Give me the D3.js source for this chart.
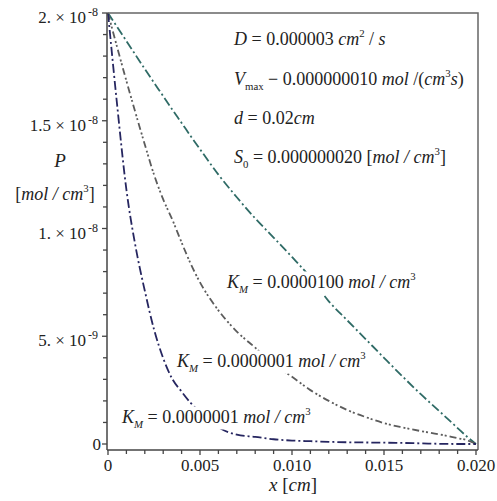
<!DOCTYPE html>
<html>
<head>
<meta charset="utf-8">
<script src="https://cdn.jsdelivr.net/npm/d3@7"></script>
<style>
  body { margin: 0; background: #fff; }
  text { font-family: "Liberation Serif", serif; }
</style>
</head>
<body>
<div class="graph"></div>
<script>
// x in cm, P in units of 1e-8 mol/cm^3
var xs = [0, 0.0005, 0.001, 0.0015, 0.002, 0.0025, 0.003, 0.0035, 0.004, 0.0045, 0.005,
  0.006, 0.007, 0.008, 0.009, 0.010, 0.011, 0.012, 0.013, 0.014, 0.015, 0.016, 0.017,
  0.018, 0.019, 0.0195, 0.020];
var pKm100 = [2.0, 1.935, 1.87, 1.805, 1.74, 1.677, 1.614, 1.551, 1.49, 1.428, 1.368,
  1.25, 1.145, 1.047, 0.958, 0.868, 0.773, 0.662, 0.574, 0.487, 0.40, 0.314, 0.231,
  0.153, 0.074, 0.035, 0];
var pKmMid = [2.0, 1.84, 1.685, 1.535, 1.39, 1.25, 1.135, 1.04, 0.935, 0.835, 0.75,
  0.62, 0.522, 0.447, 0.37, 0.312, 0.25, 0.2, 0.158, 0.125, 0.097, 0.077, 0.06,
  0.045, 0.027, 0.018, 0];
var pKmLow = [2.0, 1.57, 1.18, 0.915, 0.711, 0.532, 0.398, 0.301, 0.243, 0.19, 0.15,
  0.078, 0.043, 0.033, 0.022, 0.016, 0.013, 0.01, 0.008, 0.007, 0.006, 0.005, 0.003,
  0.001, 0, 0, 0];

var yTicks = [0, 0.5, 1, 1.5, 2];
var yTickMant = ["0", "5. \u00d7 10", "1. \u00d7 10", "1.5 \u00d7 10", "2. \u00d7 10"];
var yTickExp = ["", "-9", "-8", "-8", "-8"];
var xTicks = [0, 0.005, 0.010, 0.015, 0.020];
var xTickLabels = ["0", "0.005", "0.010", "0.015", "0.020"];

var infoLines = [
  [{t: "D", i: 1}, {t: " = 0.000003 "}, {t: "cm", i: 1}, {t: "2", s: "sup"}, {t: " / "}, {t: "s", i: 1}],
  [{t: "V", i: 1}, {t: "max", s: "sub"}, {t: " \u2212 0.000000010 "}, {t: "mol", i: 1}, {t: " /("}, {t: "cm", i: 1}, {t: "3", s: "sup"}, {t: "s", i: 1}, {t: ")"}],
  [{t: "d", i: 1}, {t: " = 0.02"}, {t: "cm", i: 1}],
  [{t: "S", i: 1}, {t: "0", s: "sub"}, {t: " = 0.000000020 ["}, {t: "mol / cm", i: 1}, {t: "3", s: "sup"}, {t: "]"}]
];
var kmLabels = ["0.0000100", "0.0000001", "0.0000001"];

window.onload = () => {
  var width = 497, height = 501;
  var serif = "Liberation Serif";
  var svg = d3.select(".graph").append("svg")
    .attr("width", width)
    .attr("height", height);

  var x = d3.scaleLinear().domain([0, 0.02]).range([108, 476]);
  var y = d3.scaleLinear().domain([0, 2]).range([444, 13]);

  var left = x(0) - 1, right = x(0.02) + 2, top = y(2), bottom = y(0) + 6;

  function txt(sel, px, py, size, anchor) {
    return sel.append("text").attr("x", px).attr("y", py)
      .style("font-family", serif).style("font-size", size + "px")
      .style("fill", "#222").attr("text-anchor", anchor || "start");
  }

  // rich text with italic / sub / sup parts
  function rich(sel, px, py, parts, size, anchor) {
    var t = txt(sel, px, py, size, anchor);
    var shift = 0;
    parts.forEach(function (p) {
      var target = p.s === "sup" ? -0.42 * size : p.s === "sub" ? 0.25 * size : 0;
      var ts = t.append("tspan").text(p.t).attr("dy", target - shift);
      shift = target;
      if (p.i) ts.style("font-style", "italic");
      if (p.s) ts.style("font-size", (size * 0.6) + "px");
    });
    return t;
  }

  // curves
  var line = d3.line()
    .x(function (d) { return x(d[0]); })
    .y(function (d) { return y(d[1]); })
    .curve(d3.curveMonotoneX);

  var series = [
    { p: pKm100, color: "#2f6b66", dash: "9,3,2,3" },
    { p: pKmMid, color: "#5c5c5c", dash: "7,3,2,2,2,3" },
    { p: pKmLow, color: "#262660", dash: "9,3,2,3" }
  ];
  svg.append("g").selectAll("path")
    .data(series)
    .enter().append("path")
    .attr("d", function (s) { return line(xs.map(function (v, i) { return [v, s.p[i]]; })); })
    .attr("fill", "none")
    .attr("stroke", function (s) { return s.color; })
    .attr("stroke-width", 1.8)
    .attr("stroke-dasharray", function (s) { return s.dash; });

  // K_M labels (white boxes hide the curves behind them)
  var labelPos = [[227, 288], [177, 367], [122, 423]];
  var lab = svg.append("g");
  kmLabels.forEach(function (v, i) {
    var t = rich(lab, labelPos[i][0], labelPos[i][1],
      [{t: "K", i: 1}, {t: "M", s: "sub", i: 1}, {t: "  = " + v + " "}, {t: "mol / cm", i: 1}, {t: "3", s: "sup"}], 18);
    var b = t.node().getBBox();
    lab.insert("rect", "text:last-child")
      .attr("x", b.x - 2).attr("y", b.y + 1)
      .attr("width", b.width + 4).attr("height", b.height - 1)
      .attr("fill", "#fff");
  });

  // info block
  var info = svg.append("g");
  var infoY = [45, 85, 124, 163];
  infoLines.forEach(function (parts, i) { rich(info, 234, infoY[i], parts, 18); });

  // frame
  svg.append("path")
    .attr("d", "M" + left + "," + top + "H" + right + "V" + bottom)
    .attr("fill", "none").attr("stroke", "#666").attr("stroke-width", 1.5);
  svg.append("line")
    .attr("x1", left).attr("x2", left).attr("y1", top).attr("y2", bottom)
    .attr("stroke", "#444").attr("stroke-width", 1.5);
  svg.append("line")
    .attr("x1", left).attr("x2", right).attr("y1", bottom).attr("y2", bottom)
    .attr("stroke", "#444").attr("stroke-width", 1.5);

  // ticks
  var yMinor = d3.range(0, 2.001, 0.1);
  svg.append("g").selectAll("line").data(yMinor).enter().append("line")
    .attr("x1", left).attr("x2", function (d, i) { return left - (i % 5 === 0 ? 5 : 4); })
    .attr("y1", function (d) { return y(d); }).attr("y2", function (d) { return y(d); })
    .attr("stroke", "#444").attr("stroke-width", 1.3);
  var xMinor = d3.range(0, 0.02001, 0.001);
  svg.append("g").selectAll("line").data(xMinor).enter().append("line")
    .attr("y1", bottom).attr("y2", function (d, i) { return bottom + (i % 5 === 0 ? 5 : 4); })
    .attr("x1", function (d) { return x(d); }).attr("x2", function (d) { return x(d); })
    .attr("stroke", "#444").attr("stroke-width", 1.3);

  // tick labels
  var yl = svg.append("g");
  yTicks.forEach(function (v, i) {
    if (yTickExp[i] === "") {
      txt(yl, 101, y(v) + 6, 17, "end").text(yTickMant[i]);
    } else {
      txt(yl, 86, y(v) + 10, 17, "end").text(yTickMant[i]);
      txt(yl, 88, y(v) + 3, 12).text(yTickExp[i]);
    }
  });
  var xl = svg.append("g");
  xTicks.forEach(function (v, i) {
    txt(xl, x(v), 471, 17, "middle").text(xTickLabels[i]);
  });

  // axis titles
  rich(svg, 60, 167, [{t: "P", i: 1}], 19, "middle");
  rich(svg, 55, 200, [{t: "["}, {t: "mol / cm", i: 1}, {t: "3", s: "sup"}, {t: "]"}], 18, "middle");
  rich(svg, 293, 491, [{t: "x", i: 1}, {t: " ["}, {t: "cm", i: 1}, {t: "]"}], 19, "middle");
};
</script>
</body>
</html>
